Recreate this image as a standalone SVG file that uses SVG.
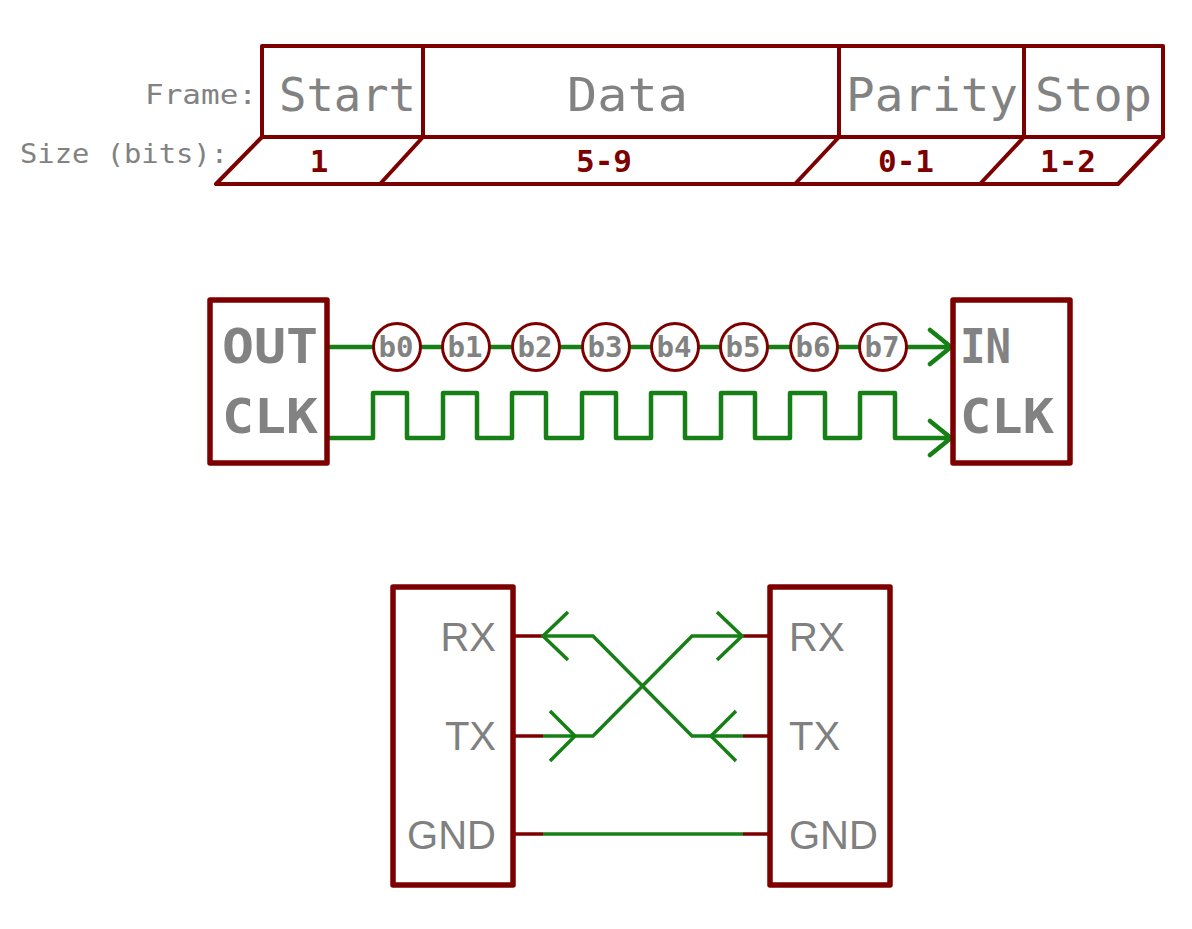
<svg xmlns="http://www.w3.org/2000/svg" width="1192" height="929" viewBox="0 0 1192 929">
<style>
.red{fill:none;stroke:#7d0000;stroke-width:4;stroke-linejoin:round;stroke-linecap:round}
.box{fill:none;stroke:#7d0000;stroke-width:5.5;stroke-linejoin:round}
.pin{fill:none;stroke:#7d0000;stroke-width:3.5}
.grn{fill:none;stroke:#168016;stroke-width:4.5;stroke-linejoin:round;stroke-linecap:round}
.grn3{fill:none;stroke:#168016;stroke-width:3.5;stroke-linecap:butt}
.circ{fill:#fff;stroke:#7d0000;stroke-width:3}
.mono{font-family:"DejaVu Sans Mono","Liberation Mono",monospace;fill:#828282}
.lbl{font-size:27px}
.fld{font-size:47px}
.num{font-size:31px;font-weight:bold;fill:#7d0000;text-anchor:middle}
.big{font-size:48px;font-weight:bold}
.bit{font-size:29px;font-weight:bold;text-anchor:middle}
.sans{font-family:"Liberation Sans",Arial,sans-serif;font-size:40px;fill:#808080}
</style>
<rect width="1192" height="929" fill="#fff"/>

<g id="frame">
  <rect class="red" x="262" y="46" width="901" height="91"/>
  <path class="red" d="M423 46V137M839 46V137M1024 46V137"/>
  <path class="red" d="M262 137L216 184H1118L1163 137M423 137L380 184M839 137L795 184M1024 137L980 184"/>
  <text class="mono lbl" x="145" y="104" textLength="112" lengthAdjust="spacingAndGlyphs">Frame:</text>
  <text class="mono lbl" x="20" y="163" textLength="208" lengthAdjust="spacingAndGlyphs">Size (bits):</text>
  <text class="mono fld" x="279" y="111" textLength="137" lengthAdjust="spacingAndGlyphs">Start</text>
  <text class="mono fld" x="567" y="111" textLength="121" lengthAdjust="spacingAndGlyphs">Data</text>
  <text class="mono fld" x="846" y="111" textLength="172" lengthAdjust="spacingAndGlyphs">Parity</text>
  <text class="mono fld" x="1035" y="111" textLength="117" lengthAdjust="spacingAndGlyphs">Stop</text>
  <text class="mono num" x="319" y="172">1</text>
  <text class="mono num" x="604" y="172">5-9</text>
  <text class="mono num" x="906" y="172">0-1</text>
  <text class="mono num" x="1068" y="172">1-2</text>
</g>

<g id="sync-connectors">
  <path class="grn" d="M329 347H951M930 330L951 347L930 364"/>
  <path class="grn" d="M329 438H373V393H407V438H443V393H477V438H512V393H546V438H582V393H616V438H651V393H685V438H721V393H755V438H790V393H825V438H860V393H895V438H951M930 421L951 438L930 455"/>
</g>

<g id="out-box">
  <rect class="box" x="210" y="300" width="117" height="163"/>
  <text class="mono big" x="222" y="363" textLength="96" lengthAdjust="spacingAndGlyphs">OUT</text>
  <text class="mono big" x="222" y="433" textLength="96" lengthAdjust="spacingAndGlyphs">CLK</text>
</g>

<g id="bits">
  <g id="b0"><circle class="circ" cx="397" cy="347" r="23.5"/><text class="mono bit" x="396" y="357" textLength="35" lengthAdjust="spacingAndGlyphs">b0</text></g>
  <g id="b1"><circle class="circ" cx="466" cy="347" r="23.5"/><text class="mono bit" x="465" y="357" textLength="35" lengthAdjust="spacingAndGlyphs">b1</text></g>
  <g id="b2"><circle class="circ" cx="536" cy="347" r="23.5"/><text class="mono bit" x="535" y="357" textLength="35" lengthAdjust="spacingAndGlyphs">b2</text></g>
  <g id="b3"><circle class="circ" cx="606" cy="347" r="23.5"/><text class="mono bit" x="605" y="357" textLength="35" lengthAdjust="spacingAndGlyphs">b3</text></g>
  <g id="b4"><circle class="circ" cx="675" cy="347" r="23.5"/><text class="mono bit" x="674" y="357" textLength="35" lengthAdjust="spacingAndGlyphs">b4</text></g>
  <g id="b5"><circle class="circ" cx="744" cy="347" r="23.5"/><text class="mono bit" x="743" y="357" textLength="35" lengthAdjust="spacingAndGlyphs">b5</text></g>
  <g id="b6"><circle class="circ" cx="814" cy="347" r="23.5"/><text class="mono bit" x="813" y="357" textLength="35" lengthAdjust="spacingAndGlyphs">b6</text></g>
  <g id="b7"><circle class="circ" cx="883" cy="347" r="23.5"/><text class="mono bit" x="882" y="357" textLength="35" lengthAdjust="spacingAndGlyphs">b7</text></g>
</g>

<g id="in-box">
  <rect class="box" x="953" y="300" width="117" height="163"/>
  <text class="mono big" x="960" y="363" textLength="51" lengthAdjust="spacingAndGlyphs">IN</text>
  <text class="mono big" x="960" y="433" textLength="94" lengthAdjust="spacingAndGlyphs">CLK</text>
</g>

<g id="uart-connectors">
  <path class="pin" d="M513 636H543M513 736H543M513 834H543M743 636H770M743 736H770M743 834H770"/>
  <path class="grn3" d="M543 636H593L692 736H743M543 736H593L692 636H743M543 834H743"/>
  <path class="grn3" d="M568 612L543 636L568 660M550 711L575 736L550 761M717 612L742 636L717 660M736 711L711 736L736 761"/>
</g>

<g id="device-a">
  <rect class="box" x="393" y="587" width="120" height="298"/>
  <text class="sans" x="496" y="651" text-anchor="end">RX</text>
  <text class="sans" x="496" y="750" text-anchor="end">TX</text>
  <text class="sans" x="496" y="849" text-anchor="end">GND</text>
</g>

<g id="device-b">
  <rect class="box" x="770" y="587" width="120" height="298"/>
  <text class="sans" x="789" y="651">RX</text>
  <text class="sans" x="789" y="750">TX</text>
  <text class="sans" x="789" y="849">GND</text>
</g>
</svg>
